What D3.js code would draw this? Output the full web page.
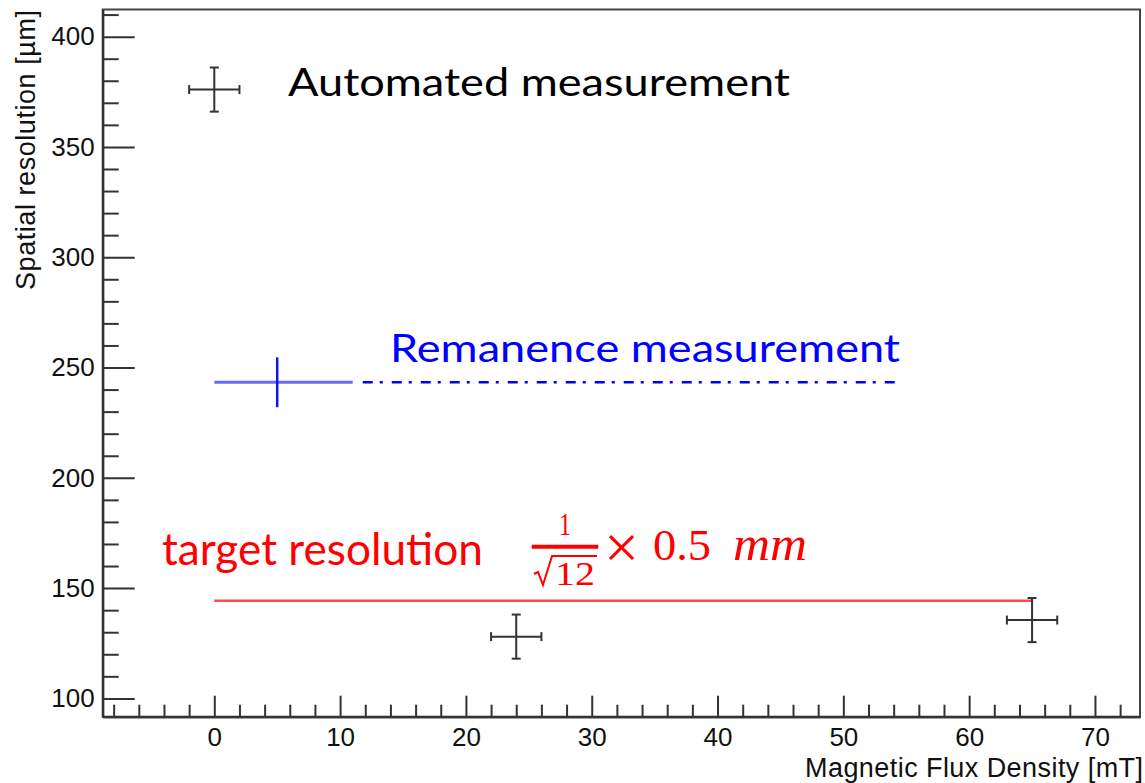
<!DOCTYPE html>
<html>
<head>
<meta charset="utf-8">
<script src="https://cdn.jsdelivr.net/npm/d3@7"></script>
<style>
  body { margin: 0; background: #fff; }
  .axis text { font-family: "Liberation Sans", Arial, sans-serif; font-size: 26px; fill: #111; }
  .axis path, .axis line { stroke: #333; stroke-width: 2; }
</style>
</head>
<body>
<div id="chart"></div>
<script>
// data
const autoX = [0, 24, 65];
const autoY = [376, 128, 135.5];
const autoXErr = [2, 2, 2];
const autoYErr = [10, 10, 10];

const remX = [5];
const remY = [243.3];
const remXLow = [0];
const remXHigh = [11];
const remYErr = [11.3];
const remDashFrom = [11.8];
const remDashTo = [54.5];

const targetY = [144.3];
const targetFrom = [0];
const targetTo = [65];

const xTicks = [0, 10, 20, 30, 40, 50, 60, 70];
const xMinor = [-8, -6, -4, -2, 2, 4, 6, 8, 12, 14, 16, 18, 22, 24, 26, 28, 32, 34, 36, 38,
                42, 44, 46, 48, 52, 54, 56, 58, 62, 64, 66, 68, 72];
const yTicks = [100, 150, 200, 250, 300, 350, 400];
const yMinor = [110, 120, 130, 140, 160, 170, 180, 190, 210, 220, 230, 240, 260, 270, 280, 290,
                310, 320, 330, 340, 360, 370, 380, 390, 410];

const W = 1145, H = 783;
const plot = { left: 102.7, top: 9.5, right: 1140, bottom: 716.7 };

const svg = d3.select('#chart').append('svg')
    .attr('width', W)
    .attr('height', H);

const x = d3.scaleLinear().domain([-8.87, 73.58]).range([plot.left, plot.right]);
const y = d3.scaleLinear().domain([91.7, 412.3]).range([plot.bottom, plot.top]);

// frame
svg.append('rect')
    .attr('x', plot.left).attr('y', plot.top)
    .attr('width', plot.right - plot.left).attr('height', plot.bottom - plot.top)
    .attr('fill', 'none').attr('stroke', '#444').attr('stroke-width', 2);

// y axis, ticks pointing inside
svg.append('g').attr('class', 'axis')
    .attr('transform', `translate(${plot.left},0)`)
    .call(d3.axisLeft(y).tickValues(yTicks).tickSizeInner(-32).tickSizeOuter(0).tickPadding(8));
svg.append('g').attr('class', 'axis')
    .attr('transform', `translate(${plot.left},0)`)
    .call(d3.axisLeft(y).tickValues(yMinor).tickSizeInner(-16).tickSizeOuter(0).tickFormat(''));

// x axis
svg.append('g').attr('class', 'axis')
    .attr('transform', `translate(0,${plot.bottom})`)
    .call(d3.axisBottom(x).tickValues(xTicks).tickSizeInner(-21).tickSizeOuter(0).tickPadding(11));
svg.append('g').attr('class', 'axis')
    .attr('transform', `translate(0,${plot.bottom})`)
    .call(d3.axisBottom(x).tickValues(xMinor).tickSizeInner(-12).tickSizeOuter(0).tickFormat(''));

// axis titles
svg.append('text')
    .attr('transform', 'translate(35,10) rotate(-90)')
    .attr('text-anchor', 'end')
    .attr('textLength', 280)
    .style('font-family', '"Liberation Sans", Arial, sans-serif')
    .style('font-size', '27px')
    .style('fill', '#111')
    .text('Spatial resolution [µm]');

svg.append('text')
    .attr('x', 1143).attr('y', 777)
    .attr('text-anchor', 'end')
    .attr('textLength', 338)
    .style('font-family', '"Liberation Sans", Arial, sans-serif')
    .style('font-size', '27px')
    .style('fill', '#111')
    .text('Magnetic Flux Density [mT]');

// target resolution line
svg.append('g').selectAll('line')
    .data(targetY)
    .join('line')
    .attr('x1', (d, i) => x(targetFrom[i]))
    .attr('x2', (d, i) => x(targetTo[i]))
    .attr('y1', d => y(d))
    .attr('y2', d => y(d))
    .attr('stroke', '#ff4a4a')
    .attr('stroke-width', 2.5);

// remanence measurement
const rem = svg.append('g');
remX.forEach((v, i) => {
    rem.append('line')
        .attr('x1', x(remXLow[i])).attr('x2', x(remXHigh[i]))
        .attr('y1', y(remY[i])).attr('y2', y(remY[i]))
        .attr('stroke', '#6a6aff').attr('stroke-width', 3);
    rem.append('line')
        .attr('x1', x(v)).attr('x2', x(v))
        .attr('y1', y(remY[i] + remYErr[i])).attr('y2', y(remY[i] - remYErr[i]))
        .attr('stroke', '#1414e6').attr('stroke-width', 2.5);
    rem.append('line')
        .attr('x1', x(remDashFrom[i])).attr('x2', x(remDashTo[i]))
        .attr('y1', y(remY[i])).attr('y2', y(remY[i]))
        .attr('stroke', '#0000ff').attr('stroke-width', 2.5)
        .attr('stroke-dasharray', '10,7,3,9');
});

// automated measurement points with error bars
const cap = 4.5;
const pts = svg.append('g').attr('stroke', '#333').attr('stroke-width', 2);
autoX.forEach((v, i) => {
    const cx = x(v), cy = y(autoY[i]);
    const xl = x(v - autoXErr[i]), xr = x(v + autoXErr[i]);
    const yt = y(autoY[i] + autoYErr[i]), yb = y(autoY[i] - autoYErr[i]);
    pts.append('line').attr('x1', xl).attr('x2', xr).attr('y1', cy).attr('y2', cy);
    pts.append('line').attr('x1', cx).attr('x2', cx).attr('y1', yt).attr('y2', yb);
    pts.append('line').attr('x1', xl).attr('x2', xl).attr('y1', cy - cap).attr('y2', cy + cap);
    pts.append('line').attr('x1', xr).attr('x2', xr).attr('y1', cy - cap).attr('y2', cy + cap);
    pts.append('line').attr('x1', cx - cap).attr('x2', cx + cap).attr('y1', yt).attr('y2', yt);
    pts.append('line').attr('x1', cx - cap).attr('x2', cx + cap).attr('y1', yb).attr('y2', yb);
});

// annotations
function label(txt, px, py, size, len, color) {
    svg.append('text')
        .attr('x', px).attr('y', py)
        .attr('textLength', len)
        .attr('lengthAdjust', 'spacingAndGlyphs')
        .style('font-family', 'Lato, "Open Sans", sans-serif')
        .style('font-size', size + 'px')
        .style('fill', color)
        .text(txt);
}
label('Automated measurement', 288, 96, 38, 502, '#000');
label('Remanence measurement', 390, 361.7, 38, 510, '#0000ff');
label('target resolution', 162, 565, 44, 321, '#ff0000');

// 1/sqrt(12) x 0.5 mm
const math = svg.append('g')
    .style('font-family', '"Liberation Serif", "Times New Roman", serif')
    .style('fill', '#ff0000');
math.append('text').attr('x', 565).attr('y', 535).attr('text-anchor', 'middle')
    .attr('textLength', 12).attr('lengthAdjust', 'spacingAndGlyphs')
    .style('font-size', '32px').text('1');
math.append('line').attr('x1', 531.7).attr('x2', 598.3).attr('y1', 546.7).attr('y2', 546.7)
    .attr('stroke', '#ff0000').attr('stroke-width', 4);
math.append('path')
    .attr('d', 'M534,574 L538,572 L543,585 L552,556 L597,556')
    .attr('fill', 'none').attr('stroke', '#ff0000').attr('stroke-width', 2);
math.append('text').attr('x', 555).attr('y', 585)
    .attr('textLength', 40).attr('lengthAdjust', 'spacingAndGlyphs')
    .style('font-size', '34px').text('12');
math.append('text').attr('x', 621.5).attr('y', 568).attr('text-anchor', 'middle')
    .style('font-size', '62px').text('×');
math.append('text').attr('x', 653).attr('y', 560)
    .attr('textLength', 58).attr('lengthAdjust', 'spacingAndGlyphs')
    .style('font-size', '44px').text('0.5');
math.append('text').attr('x', 733).attr('y', 560)
    .attr('textLength', 74).attr('lengthAdjust', 'spacingAndGlyphs')
    .style('font-size', '48px').style('font-style', 'italic').text('mm');
</script>
</body>
</html>
